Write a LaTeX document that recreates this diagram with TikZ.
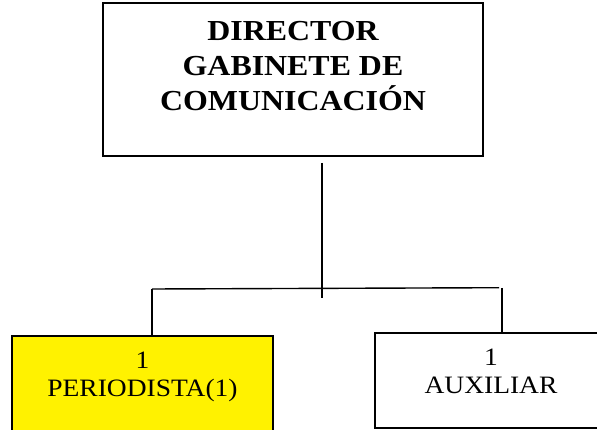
\documentclass[tikz,border=0pt]{standalone}
\usepackage{fontspec}
\newfontfamily\orgfont[FakeStretch=1.1]{Liberation Serif}
\usepackage{tikz}
\usetikzlibrary{calc}

\begin{document}
\begin{tikzpicture}[x=1pt,y=-1pt]
\tikzstyle{unit}=[draw,line width=1.5pt,inner sep=0pt,outer sep=0pt]
\tikzstyle{unittext}=[anchor=north,inner sep=0pt,align=center,font=\orgfont\fontsize{25}{28}\selectfont]
\tikzstyle{link}=[line width=1.4pt]
\useasboundingbox (0,0) rectangle (597,430);
\clip (0,0) rectangle (597,430);
\node[unit,line width=1.8pt,minimum width=380pt,minimum height=153pt] (director) at (293,79.5){};
\node[unittext,font=\orgfont\bfseries\fontsize{29}{35}\selectfont] (directortext) at (293,21) {DIRECTOR\\GABINETE DE\\COMUNICACIÓN};
\node[unit,fill=yellow,minimum width=261pt,minimum height=96pt] (periodista) at (142.5,384){};
\node[unittext] (periodistatext) at (142.5,352) {1\\PERIODISTA(1)};
\node[unit,minimum width=232pt,minimum height=95pt] (auxiliar) at (491,380.5){};
\node[unittext] (auxiliartext) at (491,349) {1\\AUXILIAR};
\coordinate (trunkend) at (322,298);
\coordinate (barleft) at (152,289);
\coordinate (barright) at (499,287.7);
\coordinate (dropright) at (502,288);
\draw[link] ($(director.south -| trunkend)+(0,7)$) -- (trunkend);
\draw[link] (barleft) -- (barright);
\draw[link] (barleft) -- (barleft |- periodista.north);
\draw[link] (dropright) -- (dropright |- auxiliar.north);
\end{tikzpicture}
\end{document}
